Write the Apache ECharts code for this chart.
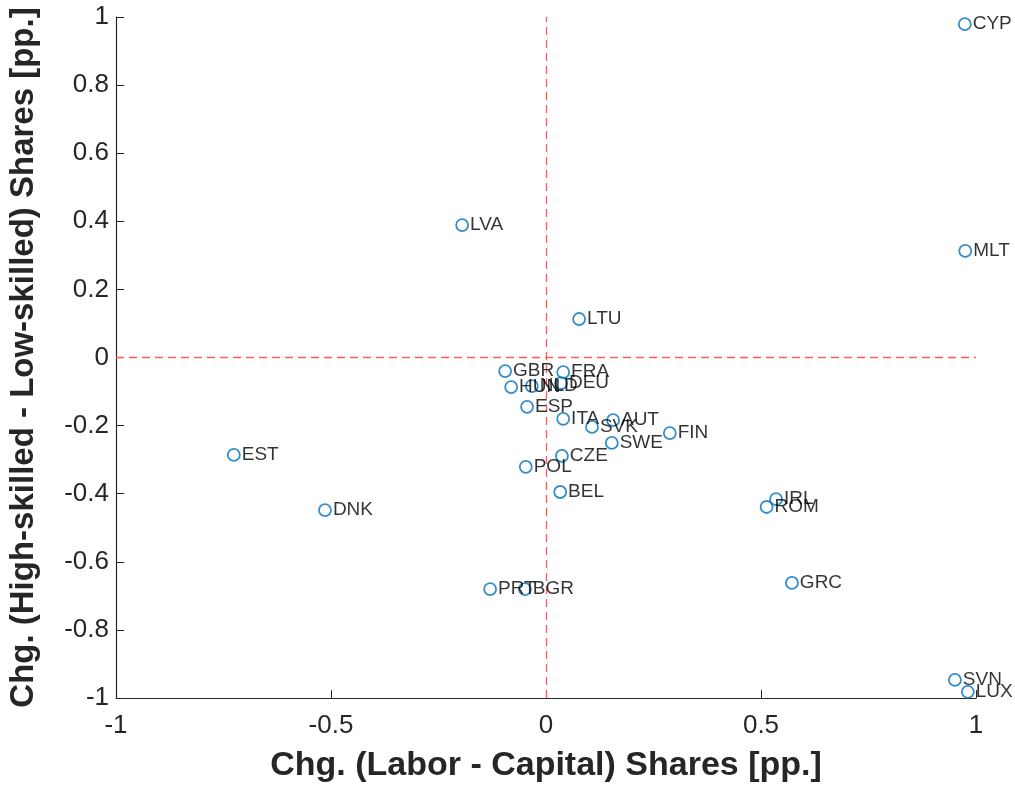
<!DOCTYPE html>
<html>
<head>
<meta charset="utf-8">
<script src="https://cdn.jsdelivr.net/npm/echarts@6/dist/echarts.min.js"></script>
<style>
  html, body { margin: 0; padding: 0; background: #ffffff; }
  #chart { width: 1015px; height: 787px; }
</style>
</head>
<body>
<div id="chart"></div>
<script>
// Country codes and their changes in factor shares (percentage points)
const countries = ['CYP', 'MLT', 'LVA', 'LTU', 'GBR', 'FRA', 'HUN', 'NLD', 'DEU', 'ESP',
  'ITA', 'SVK', 'AUT', 'FIN', 'SWE', 'CZE', 'POL', 'EST', 'BEL', 'DNK',
  'IRL', 'ROM', 'GRC', 'PRT', 'BGR', 'SVN', 'LUX'];
// Chg. (Labor - Capital) Shares
const laborCapital = [0.974, 0.975, -0.195, 0.077, -0.095, 0.040, -0.081, -0.033, 0.035, -0.044,
  0.040, 0.107, 0.156, 0.288, 0.153, 0.037, -0.047, -0.726, 0.033, -0.514,
  0.535, 0.513, 0.572, -0.130, -0.049, 0.951, 0.981];
// Chg. (High-skilled - Low-skilled) Shares
const highLow = [0.979, 0.313, 0.389, 0.113, -0.040, -0.043, -0.087, -0.084, -0.075, -0.145,
  -0.180, -0.204, -0.184, -0.222, -0.251, -0.289, -0.321, -0.286, -0.395, -0.448,
  -0.416, -0.439, -0.662, -0.680, -0.680, -0.947, -0.982];

const xTicks = { min: -1, max: 1, interval: 0.5 };
const yTicks = { min: -1, max: 1, interval: 0.2 };

const points = countries.map((c, i) => ({ name: c, value: [laborCapital[i], highLow[i]] }));

const FONT = "'Liberation Sans', Arial, Helvetica, sans-serif";
const AXIS_COLOR = '#262626';
const REF_RED = '#FF5C5C';
const fmt = v => String(parseFloat(Number(v).toFixed(2)) || 0);

const chart = echarts.init(document.getElementById('chart'), null, { renderer: 'canvas' });
chart.setOption({
  animation: false,
  backgroundColor: '#ffffff',
  grid: { left: 116, right: 39, top: 17, bottom: 89, containLabel: false, outerBoundsMode: 'none' },
  xAxis: {
    type: 'value',
    min: xTicks.min, max: xTicks.max, interval: xTicks.interval,
    name: 'Chg. (Labor - Capital) Shares [pp.]',
    nameLocation: 'middle',
    nameGap: 51,
    nameTextStyle: { fontFamily: FONT, fontSize: 34, fontWeight: 'bold', color: AXIS_COLOR, lineHeight: 34 },
    axisLine: { show: true, onZero: false, lineStyle: { color: AXIS_COLOR, width: 1.2 } },
    axisTick: { show: true, inside: true, length: 8, lineStyle: { color: AXIS_COLOR, width: 1 } },
    axisLabel: { fontFamily: FONT, fontSize: 26, color: AXIS_COLOR, margin: 15, formatter: fmt },
    splitLine: { show: false }
  },
  yAxis: {
    type: 'value',
    min: yTicks.min, max: yTicks.max, interval: yTicks.interval,
    name: 'Chg. (High-skilled - Low-skilled) Shares [pp.]',
    nameLocation: 'middle',
    nameGap: 76,
    nameTextStyle: { fontFamily: FONT, fontSize: 33, fontWeight: 'bold', color: AXIS_COLOR },
    axisLine: { show: true, onZero: false, lineStyle: { color: AXIS_COLOR, width: 1.2 } },
    axisTick: { show: true, inside: true, length: 8, lineStyle: { color: AXIS_COLOR, width: 1 } },
    axisLabel: { fontFamily: FONT, fontSize: 26, color: AXIS_COLOR, margin: 7, formatter: fmt },
    splitLine: { show: false }
  },
  series: [{
    type: 'scatter',
    data: points,
    symbol: 'circle',
    symbolSize: 12,
    itemStyle: { color: 'rgba(255,255,255,0)', borderColor: '#0072BD', borderWidth: 1.8 },
    label: {
      show: true,
      position: 'right',
      distance: 1,
      formatter: p => p.name,
      fontFamily: FONT,
      fontSize: 19,
      color: '#000000'
    },
    labelLayout: { hideOverlap: false },
    markLine: {
      silent: true,
      symbol: 'none',
      label: { show: false },
      itemStyle: { color: REF_RED },
      lineStyle: { color: REF_RED, type: [8, 5], width: 1.3, opacity: 1 },
      emphasis: { disabled: true },
      data: [
        { xAxis: 0, lineStyle: { color: REF_RED } },
        { yAxis: 0, lineStyle: { color: REF_RED } }
      ],
      z: 1
    }
  }]
});
</script>
</body>
</html>
